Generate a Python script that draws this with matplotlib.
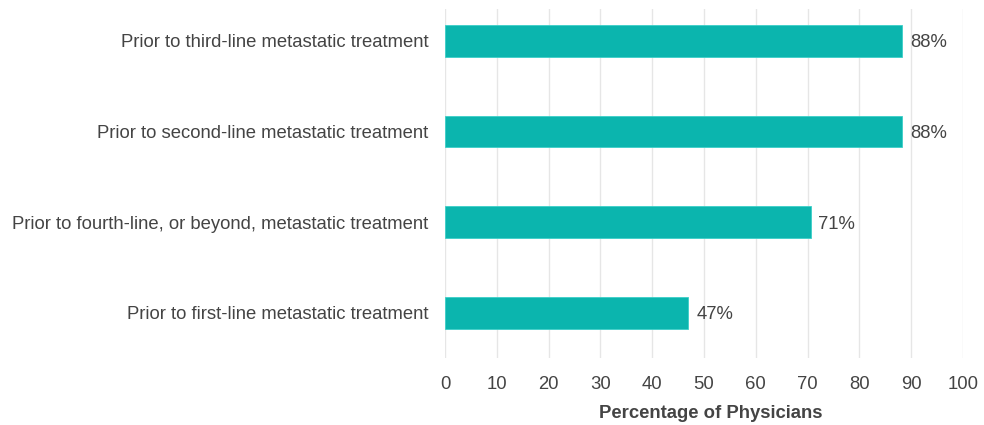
import matplotlib.pyplot as plt

plt.rcParams['font.family'] = ['Liberation Sans', 'DejaVu Sans']

# data (bottom to top)
labels = ['Prior to first-line metastatic treatment',
          'Prior to fourth-line, or beyond, metastatic treatment',
          'Prior to second-line metastatic treatment',
          'Prior to third-line metastatic treatment']
values = [47, 70.6, 88.3, 88.3]
value_text = ['47%', '71%', '88%', '88%']
xticks = list(range(0, 101, 10))

text_color = '#444444'
bar_color = '#0bb5ae'
fs = 13.3

fig = plt.figure(figsize=(9.84, 4.25), dpi=100)
ax = fig.add_axes([0.4522, 0.1576, 0.9787 - 0.4522, 0.9788 - 0.1576])

ypos = list(range(len(labels)))
ax.barh(ypos, values, height=0.35, color=bar_color, edgecolor='#3ccfc8', linewidth=0.6, zorder=3)
for y, v, t in zip(ypos, values, value_text):
    ax.text(v + 1.5, y, t, va='center_baseline', ha='left', fontsize=fs, color=text_color)

ax.set_xlim(0, 100)
ax.set_ylim(-0.5, 3.35)
ax.set_xticks(xticks)
ax.set_yticks(ypos)
ax.set_yticklabels(labels)
ax.tick_params(axis='both', length=0, labelsize=fs, colors=text_color)
ax.tick_params(axis='y', pad=12)
ax.tick_params(axis='x', pad=13)
ax.xaxis.grid(True, color='#e6e6e6', linewidth=1, zorder=0)
for s in ax.spines.values():
    s.set_visible(False)
ax.set_xlabel('Percentage of Physicians', fontsize=fs, fontweight='bold', color=text_color)
ax.xaxis.set_label_coords(0.5135, -0.135)

fig.savefig('out.png', dpi=100)
